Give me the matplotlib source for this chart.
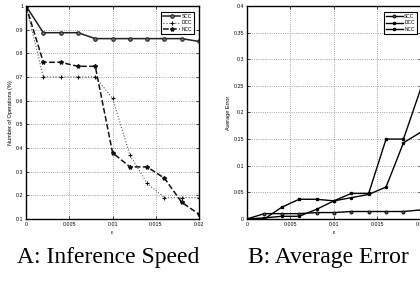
import numpy as np
import matplotlib
matplotlib.use('Agg')
import matplotlib.pyplot as plt

# epsilon values shared by both panels
eps = [0, 0.002, 0.004, 0.006, 0.008, 0.010, 0.012, 0.014, 0.016, 0.018, 0.020]

# Panel A: fraction of operations
speed_scc = [1.0, 0.887, 0.887, 0.887, 0.862, 0.862, 0.862, 0.862, 0.862, 0.862, 0.85]
speed_dcc = [1.0, 0.70, 0.70, 0.70, 0.70, 0.61, 0.37, 0.25, 0.19, 0.19, 0.19]
speed_ncc = [1.0, 0.762, 0.762, 0.745, 0.745, 0.38, 0.32, 0.32, 0.272, 0.17, 0.12]

# Panel B: average error
err_scc = [0, 0.010, 0.010, 0.010, 0.012, 0.012, 0.014, 0.014, 0.014, 0.014, 0.017]
err_dcc = [0, 0.002, 0.005, 0.005, 0.018, 0.034, 0.040, 0.046, 0.060, 0.143, 0.163]
err_ncc = [0, 0.0, 0.022, 0.037, 0.037, 0.034, 0.048, 0.048, 0.150, 0.150, 0.245]

xticks = [0, 0.005, 0.01, 0.015, 0.02]
xticklabels = ['0', '0.005', '0.01', '0.015', '0.02']

plt.rcParams['font.family'] = ['Liberation Sans', 'DejaVu Sans']

fig = plt.figure(figsize=(4.2, 2.84), dpi=100)
ax1 = fig.add_axes([0.062, 0.229, 0.412, 0.75])
ax2 = fig.add_axes([0.588, 0.229, 0.414, 0.75])


def style(ax):
    ax.grid(True, linestyle=':', color='#888888', linewidth=0.6)
    ax.tick_params(direction='in', labelsize=3.8, length=2, width=0.5, pad=2,
                   top=True, right=True)
    for s in ax.spines.values():
        s.set_linewidth(1.0)
    ax.set_xticks(xticks)
    ax.set_xticklabels(xticklabels)
    ax.set_xlim(0, 0.02)
    ax.set_xlabel('ε', fontsize=4, labelpad=2)


# --- A ---
ax1.plot(eps, speed_scc, '-', color='#222222', lw=1.1, marker='o', ms=2.5,
         mfc='#777777', mec='#222222', mew=0.8, label='SCC')
ax1.plot(eps, speed_dcc, ':', color='#555555', lw=0.8, marker='+', ms=3,
         mec='#111111', mew=0.8, label='DCC')
ax1.plot(eps, speed_ncc, '--', color='#111111', lw=1.1, marker='*', ms=3,
         mfc='#111111', mec='#111111', label='NCC')
ax1.set_ylim(0.1, 1.0)
ax1.set_yticks(np.arange(0.1, 1.01, 0.1))
ax1.set_yticklabels(['0.1', '0.2', '0.3', '0.4', '0.5', '0.6', '0.7', '0.8', '0.9', '1'])
ax1.set_ylabel('Number of Operations (%)', fontsize=4, labelpad=2)
style(ax1)
leg = ax1.legend(loc='upper right', fontsize=3.5, handlelength=3.5,
                 borderpad=0.4, labelspacing=0.35, handletextpad=0.3,
                 fancybox=False, framealpha=1, edgecolor='black',
                 bbox_to_anchor=(0.985, 0.985))
leg.get_frame().set_linewidth(0.8)

# --- B ---
ax2.plot(eps, err_scc, '-', color='black', lw=1.0, marker='o', ms=2.2,
         mfc='#555555', mec='black', mew=0.6, label='SCC')
ax2.plot(eps, err_dcc, '-', color='black', lw=1.0, marker='o', ms=1.5,
         mfc='black', label='DCC')
ax2.plot(eps, err_ncc, '-', color='black', lw=1.0, marker='s', ms=1.4,
         mfc='black', label='NCC')
ax2.set_ylim(0, 0.4)
ax2.set_yticks(np.arange(0, 0.401, 0.05))
ax2.set_yticklabels(['0', '0.05', '0.1', '0.15', '0.2', '0.25', '0.3', '0.35', '0.4'])
ax2.set_ylabel('Average Error', fontsize=4, labelpad=2)
style(ax2)
leg2 = ax2.legend(loc='upper right', fontsize=3.5, handlelength=3.5,
                  borderpad=0.4, labelspacing=0.35, handletextpad=0.3,
                  fancybox=False, framealpha=1, edgecolor='black',
                  bbox_to_anchor=(0.99, 0.985))
leg2.get_frame().set_linewidth(0.8)

# captions
fig.text(0.258, 0.095, 'A: Inference Speed', ha='center', va='center',
         fontsize=17, family=['Liberation Serif', 'DejaVu Serif'])
fig.text(0.782, 0.095, 'B: Average Error', ha='center', va='center',
         fontsize=17, family=['Liberation Serif', 'DejaVu Serif'])

fig.savefig('out.png', dpi=100)
